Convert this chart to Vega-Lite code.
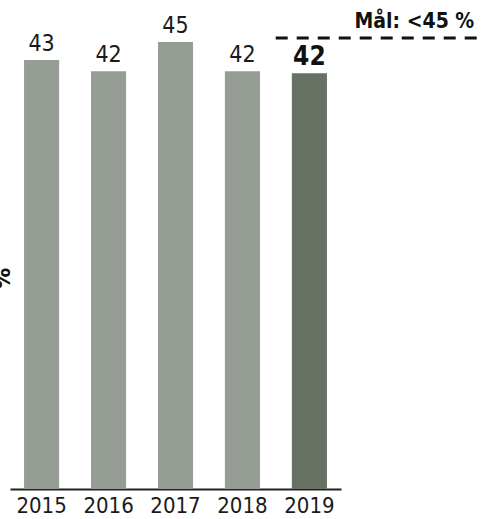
{
  "$schema": "https://vega.github.io/schema/vega-lite/v6.json",
  "width": 473,
  "height": 489,
  "padding": {"left": 10, "top": 0, "right": 0, "bottom": 30},
  "autosize": {"type": "none"},
  "config": {"view": {"stroke": null}, "font": "DejaVu Sans Condensed"},
  "datasets": {
    "bars": [
      {"year": "2015", "value": 42.8, "label": "43", "current": "no"},
      {"year": "2016", "value": 41.7, "label": "42", "current": "no"},
      {"year": "2017", "value": 44.6, "label": "45", "current": "no"},
      {"year": "2018", "value": 41.7, "label": "42", "current": "no"},
      {"year": "2019", "value": 41.5, "label": "42", "current": "yes"}
    ],
    "goal": [{"year": "2019", "goal": 45, "text": "Mål: <45 %"}]
  },
  "layer": [
    {
      "data": {"name": "bars"},
      "mark": {"type": "bar"},
      "encoding": {
        "x": {
          "field": "year", "type": "ordinal",
          "scale": {"range": [0, 331], "paddingInner": 0.476, "paddingOuter": 0.21},
          "axis": {"title": null, "labelAngle": 0, "ticks": false, "domainColor": "#222222", "domainWidth": 2, "labelFontSize": 22, "labelFontWeight": 300, "labelColor": "#1a1a1a", "labelPadding": 6}
        },
        "y": {
          "field": "value", "type": "quantitative",
          "scale": {"domain": [0, 48.8], "nice": false, "zero": true},
          "axis": {"title": "%", "labels": false, "ticks": false, "domain": false, "grid": false, "titleAngle": 90, "titleX": -24, "titleY": 278, "titleBaseline": "bottom", "titleFontSize": 24, "titleFontWeight": "bold", "titleColor": "#111111"}
        },
        "color": {
          "field": "current", "type": "nominal",
          "scale": {"domain": ["no", "yes"], "range": ["#959d94", "#667063"]},
          "legend": null
        }
      }
    },
    {
      "data": {"name": "bars"},
      "transform": [{"filter": "datum.current == 'no'"}],
      "mark": {"type": "text", "baseline": "bottom", "dy": -4, "fontSize": 23, "fontWeight": 300, "color": "#1a1a1a"},
      "encoding": {
        "x": {"field": "year", "type": "ordinal"},
        "y": {"field": "value", "type": "quantitative"},
        "text": {"field": "label"}
      }
    },
    {
      "data": {"name": "bars"},
      "transform": [{"filter": "datum.current == 'yes'"}],
      "mark": {"type": "text", "baseline": "bottom", "dy": -3, "fontSize": 26, "fontWeight": "bold", "color": "#111111"},
      "encoding": {
        "x": {"field": "year", "type": "ordinal"},
        "y": {"field": "value", "type": "quantitative"},
        "text": {"field": "label"}
      }
    },
    {
      "data": {"name": "goal"},
      "mark": {"type": "rule", "strokeDash": [12, 9], "strokeWidth": 3, "color": "#111111"},
      "encoding": {
        "x": {"field": "year", "type": "ordinal", "bandPosition": -0.46},
        "x2": {"field": "year", "bandPosition": 5.49},
        "y": {"field": "goal", "type": "quantitative"}
      }
    },
    {
      "data": {"name": "goal"},
      "mark": {"type": "text", "align": "right", "baseline": "bottom", "dy": -6, "fontSize": 21, "fontWeight": "bold", "color": "#111111"},
      "encoding": {
        "x": {"field": "year", "type": "ordinal", "bandPosition": 5.2},
        "y": {"field": "goal", "type": "quantitative"},
        "text": {"field": "text"}
      }
    }
  ]
}
